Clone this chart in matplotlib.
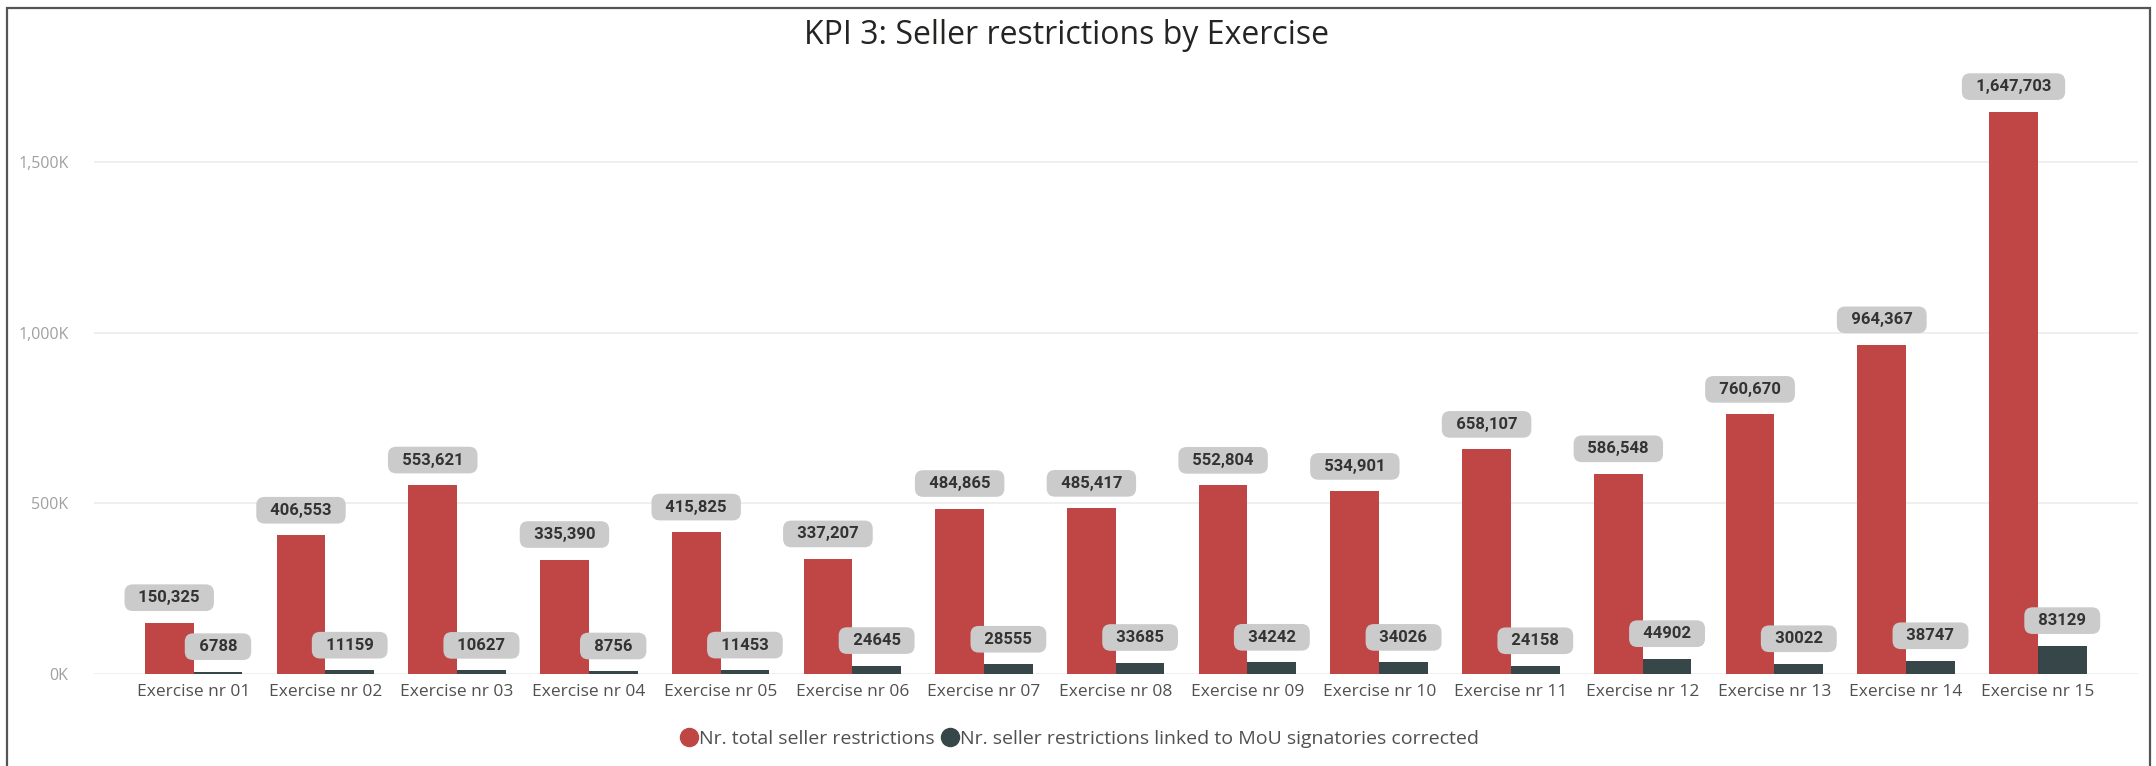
import matplotlib
matplotlib.use("Agg")
import matplotlib.pyplot as plt
from matplotlib.patches import Rectangle
from matplotlib.lines import Line2D
import numpy as np

categories = [f"Exercise nr {i:02d}" for i in range(1, 16)]
total_restrictions = [150325, 406553, 553621, 335390, 415825, 337207, 484865, 485417,
                      552804, 534901, 658107, 586548, 760670, 964367, 1647703]
mou_restrictions = [6788, 11159, 10627, 8756, 11453, 24645, 28555, 33685,
                    34242, 34026, 24158, 44902, 30022, 38747, 83129]
series_names = ["Nr. total seller restrictions",
                "Nr. seller restrictions linked to MoU signatories corrected"]
yticks = [0, 500000, 1000000, 1500000]
ytick_labels = ["0K", "500K", "1,000K", "1,500K"]

RED = "#C04646"
DARK = "#374649"

W, H = 2156, 766
fig = plt.figure(figsize=(W / 100, H / 100), dpi=100)
ax = fig.add_axes([93.5 / W, 1 - 674 / H, (2138 - 93.5) / W, (674 - 60) / H])

x = np.arange(len(categories))
bw = 0.37
ax.bar(x - bw / 2, total_restrictions, bw, color=RED, label=series_names[0], zorder=3)
ax.bar(x + bw / 2, mou_restrictions, bw, color=DARK, label=series_names[1], zorder=3)

ax.set_xlim(-0.76, len(categories) - 1 + 0.76)
ax.set_ylim(0, 1799000)
ax.set_yticks(yticks)
ax.set_yticklabels(ytick_labels, fontname="Open Sans", fontsize=11.5, color="#a0a0a0")
ax.set_xticks(x)
ax.set_xticklabels(categories, fontname="Open Sans", fontsize=12.5, color="#505050")
ax.tick_params(axis="both", length=0)
ax.tick_params(axis="x", pad=7)
ax.tick_params(axis="y", pad=18)
ax.grid(axis="y", color="#ececec", linewidth=1.2, zorder=0)
for s in ax.spines.values():
    s.set_visible(False)

box = dict(boxstyle="round,pad=0.35,rounding_size=0.5", fc="#cbcbcb", ec="none")
for xi, v in zip(x, total_restrictions):
    ax.annotate(f"  {v:,}  ", (xi - bw / 2, v), xytext=(0, 18), textcoords="offset points",
                ha="center", va="center", fontname="Roboto", fontweight="bold",
                fontsize=12, color="#333333", bbox=box, zorder=5)
for xi, v in zip(x, mou_restrictions):
    ax.annotate(f"  {v}  ", (xi + bw / 2, v), xytext=(0, 18), textcoords="offset points",
                ha="center", va="center", fontname="Roboto", fontweight="bold",
                fontsize=12, color="#333333", bbox=box, zorder=5)

fig.text(1066 / W, 1 - 36 / H, "KPI 3: Seller restrictions by Exercise",
         ha="center", va="center", fontname="Open Sans", fontsize=23, color="#252423")

lh = [Line2D([], [], marker="o", linestyle="none", markersize=13, color=RED),
      Line2D([], [], marker="o", linestyle="none", markersize=13, color=DARK)]
leg = fig.legend(lh, series_names, loc="center", bbox_to_anchor=(1079 / W, 1 - 739 / H),
                 ncol=2, frameon=False, handletextpad=0.0, columnspacing=0.3,
                 handlelength=1.0, prop={"family": "Open Sans", "size": 14})
for t in leg.get_texts():
    t.set_color("#505050")

fig.add_artist(Rectangle((7 / W, -0.05), (2150 - 7) / W, 1.05 - 8 / H,
                         transform=fig.transFigure, fill=False, ec="#555555", lw=1.6))

fig.savefig("out.png", dpi=100)
